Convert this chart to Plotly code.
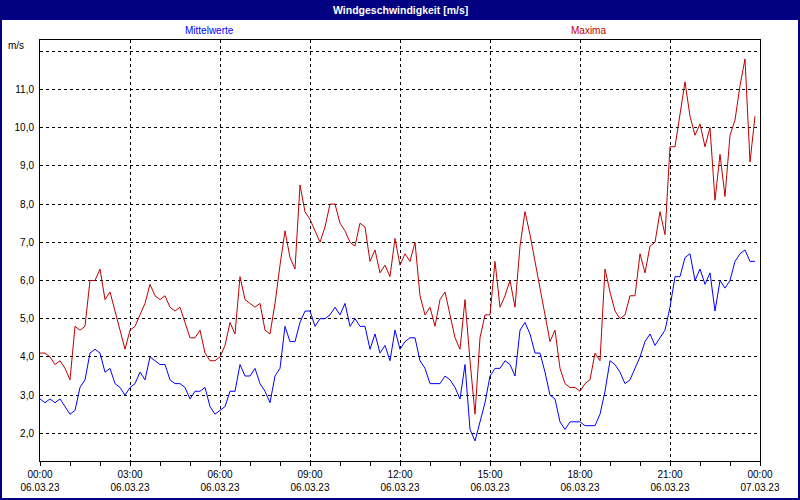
import plotly.graph_objects as go
import pandas as pd

# 10-minute values, 06.03.23 00:00 .. 23:50
times = pd.date_range("2023-03-06 00:00", periods=144, freq="10min")

mittelwerte = [
    2.9, 2.8, 2.9, 2.8, 2.9, 2.7, 2.5, 2.6, 3.2, 3.4, 4.1, 4.2, 4.1, 3.6, 3.7, 3.3, 3.2, 3.0, 3.2, 3.3,
    3.6, 3.4, 4.0, 3.9, 3.8, 3.8, 3.4, 3.3, 3.3, 3.2, 2.9, 3.1, 3.1, 3.2, 2.7, 2.5, 2.6,
    2.7, 3.1, 3.1, 3.8, 3.5, 3.5, 3.7, 3.3, 3.1, 2.8, 3.5, 3.7, 4.8, 4.4, 4.4, 4.9, 5.2, 5.2, 4.8,
    5.0, 5.0, 5.1, 5.3, 5.1, 5.4, 4.8, 5.0, 4.8, 4.8, 4.2, 4.6, 4.1, 4.3, 3.9, 4.7, 4.2, 4.4, 4.5,
    4.5, 3.9, 3.7, 3.3, 3.3, 3.3, 3.5, 3.4, 3.2, 2.9, 3.8, 2.1, 1.8, 2.3, 2.8, 3.5, 3.7, 3.7, 3.9,
    3.8, 3.5, 4.7, 4.9, 4.6, 4.1, 4.1, 3.6, 3.0, 2.9, 2.3, 2.1, 2.3, 2.3, 2.3, 2.2, 2.2,
    2.2, 2.5, 3.1, 3.9, 3.8, 3.6, 3.3, 3.4, 3.7, 4.0, 4.4, 4.6, 4.3, 4.5, 4.7, 5.3, 6.1, 6.1, 6.6,
    6.7, 6.0, 6.3, 5.9, 6.2, 5.2, 6.0, 5.8, 6.0, 6.5, 6.7, 6.8, 6.5, 6.5,
]

maxima = [
    4.1, 4.1, 4.0, 3.8, 3.9, 3.7, 3.4, 4.8, 4.7, 4.8, 6.0, 6.0, 6.3, 5.5, 5.7, 5.2, 4.7, 4.2, 4.7, 4.8,
    5.1, 5.4, 5.9, 5.6, 5.5, 5.6, 5.3, 5.2, 5.3, 4.9, 4.5, 4.5, 4.7, 4.1, 3.9, 3.9, 4.0,
    4.3, 4.9, 4.6, 6.1, 5.5, 5.4, 5.3, 5.4, 4.7, 4.6, 5.4, 6.4, 7.3, 6.6, 6.3, 8.5, 7.8, 7.6, 7.3,
    7.0, 7.4, 8.0, 8.0, 7.5, 7.3, 7.0, 6.9, 7.5, 7.4, 6.5, 6.8, 6.2, 6.4, 6.1, 7.1, 6.4, 6.7, 6.5,
    7.0, 5.6, 5.1, 5.3, 4.8, 5.5, 5.7, 5.1, 4.5, 4.2, 5.5, 3.9, 2.5, 4.5, 5.1, 5.1, 6.5, 5.3, 5.6,
    6.0, 5.3, 6.9, 7.8, 7.2, 6.5, 5.8, 5.2, 4.4, 4.7, 3.7, 3.3, 3.2, 3.2, 3.1, 3.3, 3.4,
    4.1, 3.9, 6.3, 5.7, 5.2, 5.0, 5.1, 5.6, 5.6, 6.7, 6.2, 6.9, 7.0, 7.8, 7.2, 9.5, 9.5, 10.3, 11.2,
    10.3, 9.8, 10.1, 9.5, 10.0, 8.1, 9.3, 8.2, 9.8, 10.2, 11.1, 11.8, 9.1, 10.3,
]

y_tickvals = [2, 3, 4, 5, 6, 7, 8, 9, 10, 11, 12]
y_ticktext = ["2,0", "3,0", "4,0", "5,0", "6,0", "7,0", "8,0", "9,0", "10,0", "11,0", ""]

x_tickvals = ["2023-03-06 00:00", "2023-03-06 03:00", "2023-03-06 06:00", "2023-03-06 09:00",
              "2023-03-06 12:00", "2023-03-06 15:00", "2023-03-06 18:00", "2023-03-06 21:00",
              "2023-03-07 00:00"]
x_ticktext = ["00:00<br>06.03.23", "03:00<br>06.03.23", "06:00<br>06.03.23", "09:00<br>06.03.23",
              "12:00<br>06.03.23", "15:00<br>06.03.23", "18:00<br>06.03.23", "21:00<br>06.03.23",
              "00:00<br>07.03.23"]
x_minor = [str(t) for t in pd.date_range("2023-03-06 00:00", periods=25, freq="1h")]

NAVY = "#000080"
BLUE = "#0000ff"
RED = "#c00000"
FONT = "Liberation Sans"

fig = go.Figure()
fig.add_trace(go.Scatter(x=times, y=mittelwerte, mode="lines", name="Mittelwerte",
                         line=dict(color=BLUE, width=1)))
fig.add_trace(go.Scatter(x=times, y=maxima, mode="lines", name="Maxima",
                         line=dict(color=RED, width=1)))

L, R, T, B = 40, 40, 40, 39
PW, PH = 800 - L - R, 500 - T - B


def px(xp):
    return (xp - L) / PW


def py(yp):
    return 1 - (yp - T) / PH


fig.update_layout(
    width=800, height=500, autosize=False,
    margin=dict(l=L, r=R, t=T, b=B, pad=0, autoexpand=False),
    paper_bgcolor="white", plot_bgcolor="white",
    showlegend=False,
    font=dict(family=FONT, size=10, color="#000000"),
    xaxis=dict(
        type="date", automargin=False,
        range=["2023-03-06 00:00", "2023-03-07 00:00"],
        tickmode="array", tickvals=x_tickvals, ticktext=x_ticktext,
        showgrid=True, gridcolor="black", gridwidth=1, griddash="3px,3px",
        showline=True, linecolor="black", linewidth=1, mirror=True,
        ticks="outside", ticklen=4, tickcolor="black", tickwidth=1,
        minor=dict(tickmode="array", tickvals=x_minor, ticks="outside", ticklen=4,
                   tickcolor="black", showgrid=False),
        tickfont=dict(family=FONT, size=10, color="#000000"),
        zeroline=False,
    ),
    yaxis=dict(
        range=[1.275, 12.295], automargin=False,
        tickmode="array", tickvals=y_tickvals, ticktext=y_ticktext,
        showgrid=True, gridcolor="black", gridwidth=1, griddash="3px,3px",
        showline=True, linecolor="black", linewidth=1, mirror=True,
        ticks="", ticklabelstandoff=3,
        tickfont=dict(family=FONT, size=10, color="#000000"),
        zeroline=False,
    ),
    shapes=[
        dict(type="rect", xref="paper", yref="paper", x0=px(0), x1=px(800), y0=py(20), y1=py(0),
             fillcolor=NAVY, line=dict(width=0), layer="above"),
        dict(type="rect", xref="paper", yref="paper", x0=px(0), x1=px(800), y0=py(500), y1=py(0),
             fillcolor="rgba(0,0,0,0)", line=dict(color=NAVY, width=4), layer="above"),
    ],
    annotations=[
        dict(text="<b>Windgeschwindigkeit [m/s]</b>", xref="paper", yref="paper",
             x=px(400), y=py(10), xanchor="center", yanchor="middle", showarrow=False,
             font=dict(family=FONT, size=10.5, color="white")),
        dict(text="Mittelwerte", xref="paper", yref="paper",
             x=px(209), y=py(31), xanchor="center", yanchor="middle", showarrow=False,
             font=dict(family=FONT, size=10, color=BLUE)),
        dict(text="Maxima", xref="paper", yref="paper",
             x=px(588), y=py(31), xanchor="center", yanchor="middle", showarrow=False,
             font=dict(family=FONT, size=10, color=RED)),
        dict(text="m/s", xref="paper", yref="paper",
             x=px(26), y=py(45), xanchor="right", yanchor="middle", showarrow=False,
             font=dict(family=FONT, size=10, color="#000000")),
    ],
)

fig.write_html("out.html",
               config={"displayModeBar": False},
               post_script="document.body.style.margin='0px';document.body.style.padding='0px';")
